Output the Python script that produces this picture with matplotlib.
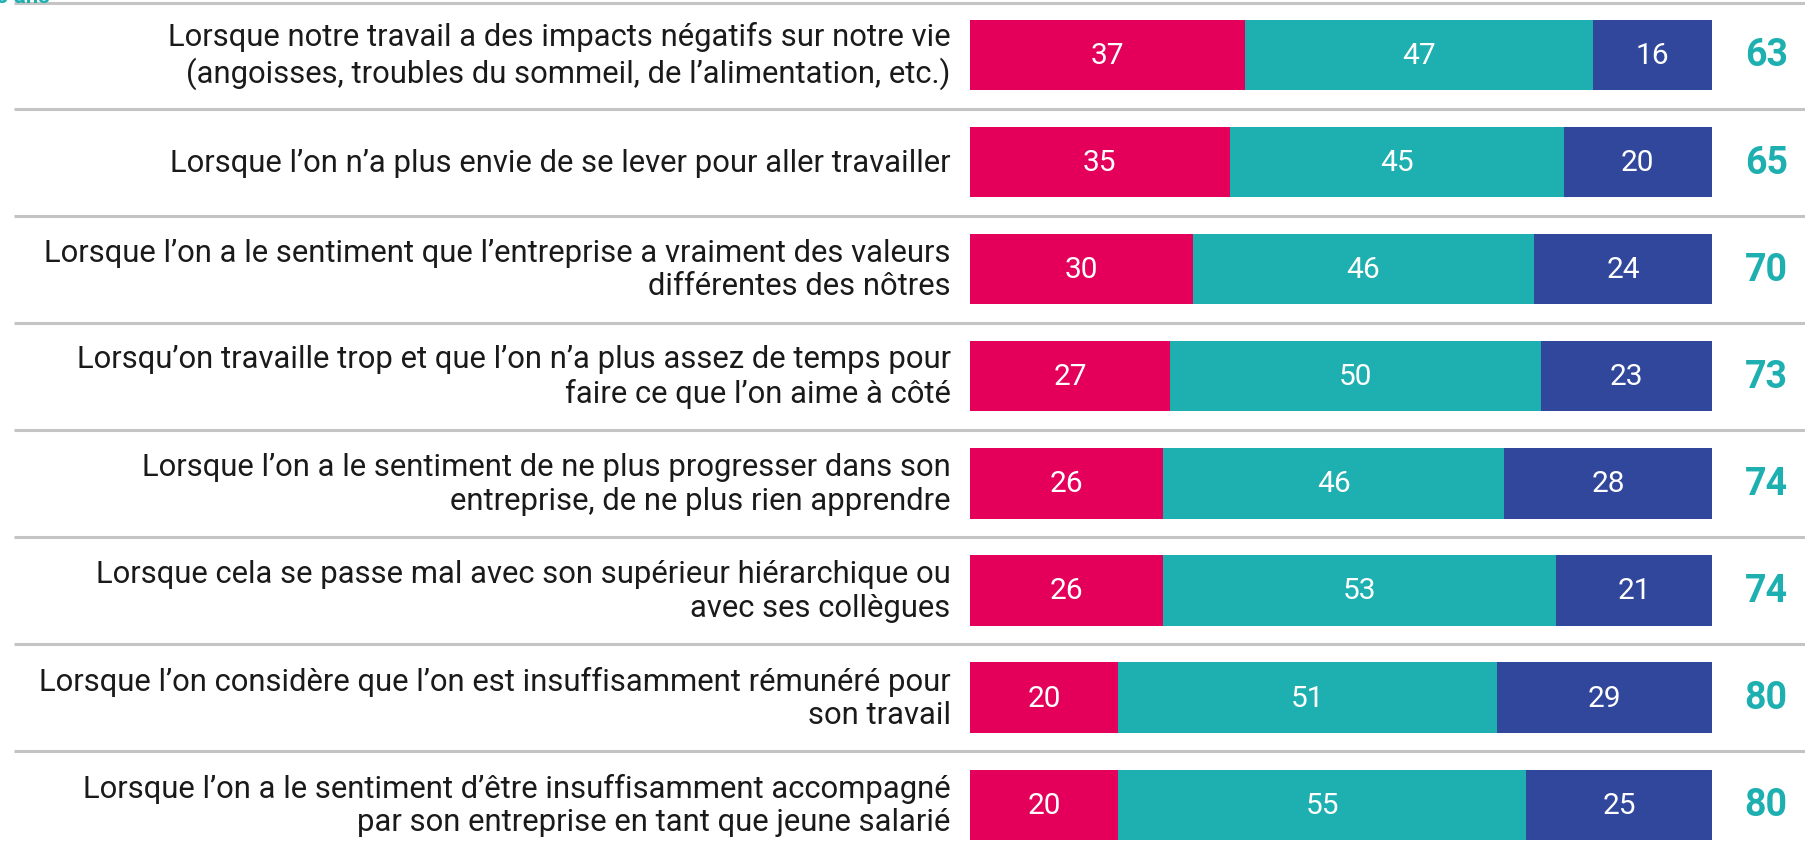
import matplotlib
matplotlib.use("Agg")
import matplotlib.pyplot as plt

# Survey answers, one row per situation (percent)
labels = [
    "Lorsque notre travail a des impacts négatifs sur notre vie\n(angoisses, troubles du sommeil, de l’alimentation, etc.)",
    "Lorsque l’on n’a plus envie de se lever pour aller travailler",
    "Lorsque l’on a le sentiment que l’entreprise a vraiment des valeurs\ndifférentes des nôtres",
    "Lorsqu’on travaille trop et que l’on n’a plus assez de temps pour\nfaire ce que l’on aime à côté",
    "Lorsque l’on a le sentiment de ne plus progresser dans son\nentreprise, de ne plus rien apprendre",
    "Lorsque cela se passe mal avec son supérieur hiérarchique ou\navec ses collègues",
    "Lorsque l’on considère que l’on est insuffisamment rémunéré pour\nson travail",
    "Lorsque l’on a le sentiment d’être insuffisamment accompagné\npar son entreprise en tant que jeune salarié",
]
red_vals = [37, 35, 30, 27, 26, 26, 20, 20]
teal_vals = [47, 45, 46, 50, 46, 53, 51, 55]
blue_vals = [16, 20, 24, 23, 28, 21, 29, 25]
totals = [t + b for t, b in zip(teal_vals, blue_vals)]

RED = "#E4005A"
TEAL = "#1EAFB0"
BLUE = "#30479B"
GRID = "#C4C4C4"

W, H = 1806, 845
fig = plt.figure(figsize=(W / 100, H / 100), dpi=100)
ax = fig.add_axes([0, 0, 1, 1])

# pixel layout: 0-100 % spans x 970..1712, rows 107 px apart starting at y=56
x0, x1 = 970, 1712
ppu = (x1 - x0) / 100
ax.set_xlim(-x0 / ppu, (W - x0) / ppu)
y0, pitch = 56, 107.1
ax.set_ylim((H - y0) / pitch, -y0 / pitch)
ax.axis("off")

rows = list(range(len(labels)))
bh = 0.656
ax.barh(rows, red_vals, height=bh, color=RED, linewidth=0)
ax.barh(rows, teal_vals, left=red_vals, height=bh, color=TEAL, linewidth=0)
lefts = [r + t for r, t in zip(red_vals, teal_vals)]
ax.barh(rows, blue_vals, left=lefts, height=bh, color=BLUE, linewidth=0)

num_font = dict(family=["Roboto", "DejaVu Sans"], fontsize=21.5, color="white",
                ha="center", va="center")
for i in rows:
    ax.text(red_vals[i] / 2, i, str(red_vals[i]), **num_font)
    ax.text(red_vals[i] + teal_vals[i] / 2, i, str(teal_vals[i]), **num_font)
    ax.text(lefts[i] + blue_vals[i] / 2, i, str(blue_vals[i]), **num_font)
    ax.text(107.3, i, str(totals[i]), family=["Roboto", "DejaVu Sans"],
            fontsize=27, fontweight="bold", color=TEAL, ha="center", va="center")
    ax.text(-2.6, i, labels[i], family=["Roboto", "DejaVu Sans"], fontsize=22.3,
            color="#1a1a1a", ha="right", va="center", linespacing=1.2)

# separators between rows
seps = [-0.49] + [i + 0.5 for i in rows[:-1]]
ax.hlines(seps, (14 - x0) / ppu, (W - x0) / ppu, color=GRID, linewidth=2.2)

fig.text(50 / W, 1 - 3 / H, "25 ans", color=TEAL, fontsize=16, fontweight="bold",
         family=["Roboto", "DejaVu Sans"], ha="right", va="baseline")

fig.savefig("out.png", dpi=100)
